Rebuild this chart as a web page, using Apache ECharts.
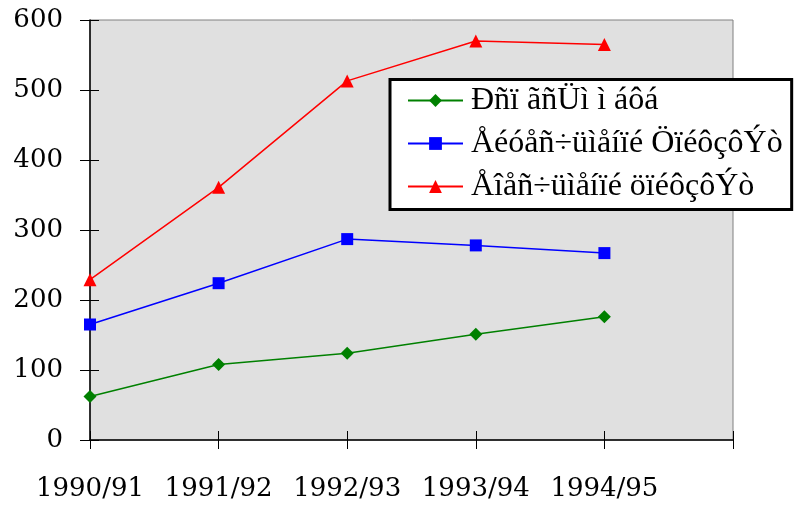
<!DOCTYPE html>
<html>
<head>
<meta charset="utf-8">
<script src="https://cdn.jsdelivr.net/npm/echarts@6/dist/echarts.min.js"></script>
<style>
  html, body { margin: 0; padding: 0; background: #fff; }
  #main { width: 794px; height: 505px; }
</style>
</head>
<body>
<div id="main"></div>
<script>
var years = ['1990/91', '1991/92', '1992/93', '1993/94', '1994/95', ''];
var seriesNames = ['Ðñï ãñÜì ì áôá', 'Åéóåñ÷üìåíïé ÖïéôçôÝò', 'Åîåñ÷üìåíïé öïéôçôÝò'];
var programmes = [62, 108, 124, 151, 176];
var incoming = [165, 224, 287, 278, 267];
var outgoing = [229, 361, 513, 570, 565];

var dom = document.getElementById('main');
var myChart = echarts.init(dom);

var axisFont = { fontFamily: 'DejaVu Serif', fontSize: 26, color: '#000' };

var option = {
    animation: false,
    grid: {
        left: 90, right: 61, top: 20, bottom: 65,
        show: true,
        backgroundColor: '#e0e0e0',
        borderColor: '#808080',
        borderWidth: 1
    },
    legend: {
        orient: 'vertical',
        left: 390,
        top: 79.5,
        data: seriesNames,
        backgroundColor: '#fff',
        borderColor: '#000',
        borderWidth: 3,
        padding: [5, 9, 7, 17],
        itemWidth: 55,
        itemHeight: 16,
        itemGap: 11,
        textStyle: { fontFamily: 'Liberation Serif', fontSize: 32, color: '#000', padding: [0, 0, 0, 3] }
    },
    xAxis: [{
        type: 'category',
        data: years,
        boundaryGap: false,
        axisLine: { lineStyle: { color: '#000', width: 1.5 } },
        axisTick: { show: true, length: 9, lineStyle: { color: '#000' } },
        axisLabel: Object.assign({ margin: 36, interval: 0 }, axisFont),
        splitLine: { show: false }
    }, {
        type: 'category',
        data: years,
        position: 'bottom',
        boundaryGap: false,
        axisLine: { show: false },
        axisTick: { show: true, inside: true, length: 9, lineStyle: { color: '#000' } },
        axisLabel: { show: false },
        splitLine: { show: false }
    }],
    yAxis: [{
        type: 'value',
        min: 0, max: 600, interval: 100,
        axisLine: { show: true, lineStyle: { color: '#000', width: 1.5 } },
        axisTick: { show: true, length: 10, lineStyle: { color: '#000' } },
        axisLabel: Object.assign({ margin: 27 }, axisFont),
        splitLine: { show: false }
    }, {
        type: 'value',
        position: 'left',
        min: 0, max: 600, interval: 100,
        axisLine: { show: false },
        axisTick: { show: true, inside: true, length: 9, lineStyle: { color: '#000' } },
        axisLabel: { show: false },
        splitLine: { show: false }
    }],
    series: [{
        name: seriesNames[0],
        type: 'line',
        data: programmes,
        symbol: 'diamond',
        symbolSize: 13,
        color: '#008000',
        lineStyle: { width: 1.5 }
    }, {
        name: seriesNames[1],
        type: 'line',
        data: incoming,
        symbol: 'rect',
        symbolSize: 12,
        color: '#0000ff',
        lineStyle: { width: 1.5 }
    }, {
        name: seriesNames[2],
        type: 'line',
        data: outgoing,
        symbol: 'triangle',
        symbolSize: 13,
        color: '#ff0000',
        lineStyle: { width: 1.5 }
    }]
};

myChart.setOption(option);
</script>
</body>
</html>
